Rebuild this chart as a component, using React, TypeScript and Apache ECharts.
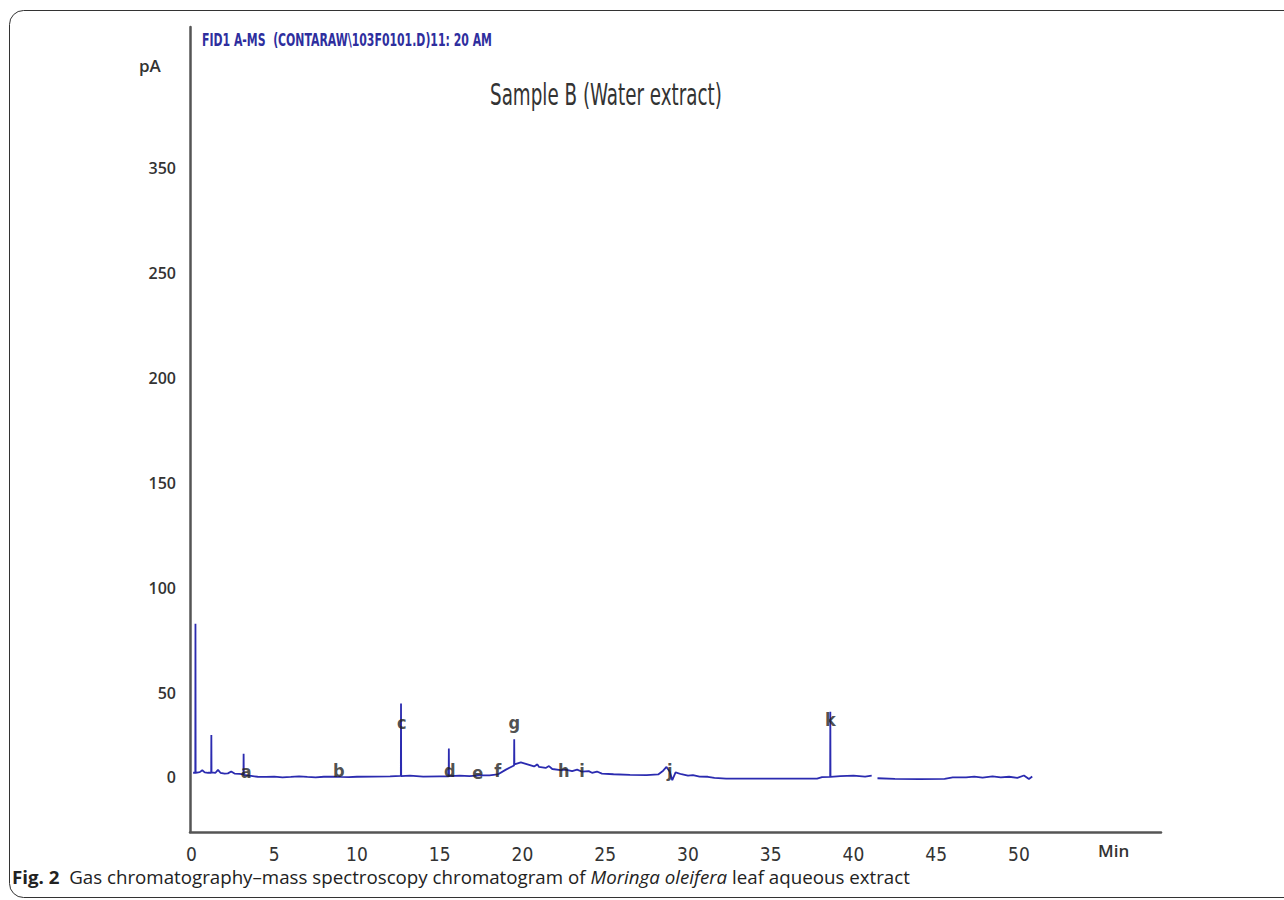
import React, { useEffect, useRef } from "react";
import * as echarts from "echarts";

// ---- data ----
const xTickValues = [0, 5, 10, 15, 20, 25, 30, 35, 40, 45, 50];
const yTickValues = [10, 50, 100, 150, 200, 250, 300];
const yTickLabels = ["0", "50", "100", "150", "200", "250", "350"];

const traceTimes = [
  0.1, 0.23, 0.24, 0.25, 0.5, 0.65, 0.8, 1.0, 1.19, 1.2, 1.21, 1.45, 1.6, 1.75, 2.0, 2.2, 2.4, 2.6, 2.9, 3.14,
  3.15, 3.16, 3.5, 4.0, 4.5, 5.0, 5.5, 6.0, 6.5, 7.0, 7.5, 8.0, 8.6, 9.0, 9.5, 10.0, 11.0, 12.0, 12.65, 12.66,
  12.67, 13.2, 14.0, 15.0, 15.54, 15.55, 15.56, 16.2, 16.8, 17.4, 18.0, 18.5, 19.0, 19.49, 19.5, 19.51, 19.9, 20.3, 20.7, 20.9,
  21.0, 21.4, 21.6, 21.8, 22.3, 22.6, 23.0, 23.3, 23.6, 24.0, 24.2, 24.5, 24.8, 25.5, 26.5, 27.5, 28.2, 28.5, 28.7, 28.9,
  29.05, 29.25, 29.6, 30.0, 30.3, 30.7, 31.2, 31.6, 32.3, 35.0, 37.8, 38.1, 38.59, 38.6, 38.61, 39.2, 40.0, 40.7, 41.1, 41.3,
  41.45, 42.5, 44.0, 45.5, 46.0, 46.8, 47.3, 47.8, 48.4, 48.9, 49.4, 49.9, 50.3, 50.6, 50.8,
];
const traceValues: (number | null)[] = [
  12, 12, 83, 12, 12.3, 13.2, 12.2, 12, 12, 30, 12.2, 12, 13.4, 12, 11.6, 11.7, 12.6, 11.6, 11.5, 11.2,
  21, 11, 10.6, 10.1, 10, 10.2, 9.8, 10.0, 10.3, 10.0, 9.8, 10.1, 10.2, 10.0, 9.9, 10.1, 10.2, 10.3, 10.5, 45,
  10.4, 10.6, 10.2, 10.3, 10.3, 23.5, 10.4, 10.6, 10.4, 10.8, 10.8, 11.2, 13.5, 15.5, 28, 16, 17, 16, 15, 16,
  14.8, 14.3, 15.2, 13.8, 13.3, 13.5, 12.8, 13.5, 12.5, 12.8, 12, 12.6, 11.6, 11.3, 11, 10.9, 11.2, 13, 14.8, 12.5,
  8.5, 12.2, 11.3, 10.6, 10.9, 10.2, 10.1, 9.6, 9.2, 9.2, 9.2, 9.9, 10, 41, 10, 10.4, 10.6, 10.2, 10.6, null,
  9.4, 9.1, 9.0, 9.1, 9.8, 9.8, 10.2, 9.7, 10.3, 9.8, 10.1, 9.6, 10.7, 9.0, 10.2,
];

const peakLetters = ["a", "b", "c", "d", "e", "f", "g", "h", "i", "j", "k"];
const peakLetterTimes = [3.3, 8.9, 12.7, 15.6, 17.3, 18.5, 19.5, 22.5, 23.6, 28.9, 38.6];
const peakLetterValues = [12.4, 13.3, 36, 13.3, 12, 13.3, 36, 12.9, 13.3, 13.3, 37.6];

const headerText = "FID1 A-MS  (CONTARAW\\103F0101.D)11: 20 AM";
const titleText = "Sample B (Water extract)";
const captionBold = "Fig. 2";
const captionA = "Gas chromatography\u2013mass spectroscopy chromatogram of ";
const captionItalic = "Moringa oleifera";
const captionB = " leaf aqueous extract";

function measure(text: string, font: string): number {
  const c = document.createElement("canvas");
  const ctx = c.getContext("2d")!;
  ctx.font = font;
  return ctx.measureText(text).width;
}

export default function App() {
  const ref = useRef<HTMLDivElement>(null);
  useEffect(() => {
    if (!ref.current) return;
    const chart = echarts.init(ref.current, undefined, { renderer: "svg" });

    const condensed = "'DejaVu Sans Condensed', 'DejaVu Sans', sans-serif";
    const headerFont = `bold 17px ${condensed}`;
    const headerScale = 290 / measure(headerText, headerFont);
    const titleFont = `31px ${condensed}`;
    const titleScale = 232 / measure(titleText, titleFont);

    const capFam = "'Open Sans', sans-serif";
    const capSize = 18;
    const capW =
      measure(captionBold, `bold ${capSize}px ${capFam}`) +
      measure("  " + captionA, `${capSize}px ${capFam}`) +
      measure(captionItalic, `italic ${capSize}px ${capFam}`) +
      measure(captionB, `${capSize}px ${capFam}`);
    const capScale = 898 / capW;

    const lineData = traceTimes.map((t, i) => [t, traceValues[i]]);
    const letterData = peakLetterTimes.map((t, i) => [t, peakLetterValues[i], peakLetters[i]]);

    chart.setOption({
      animation: false,
      backgroundColor: "#ffffff",
      grid: { left: 190, top: 27, right: 123, bottom: 68, containLabel: false },
      xAxis: {
        type: "value",
        min: -0.09,
        max: 58.58,
        axisLine: { show: true, onZero: false, lineStyle: { color: "#555555", width: 2.5 } },
        axisTick: { show: false },
        splitLine: { show: false },
        axisLabel: {
          customValues: xTickValues,
          margin: 12,
          color: "#333333",
          fontSize: 19,
          fontFamily: condensed,
        },
      },
      yAxis: {
        type: "value",
        min: -16.2,
        max: 367.1,
        axisLine: { show: true, onZero: false, lineStyle: { color: "#555555", width: 2.5 } },
        axisTick: { show: false },
        splitLine: { show: false },
        axisLabel: {
          customValues: yTickValues,
          formatter: (v: number) => {
            const idx = yTickValues.indexOf(v);
            return idx >= 0 ? yTickLabels[idx] : "";
          },
          margin: 14,
          color: "#333333",
          fontSize: 16,
          fontWeight: 600,
          fontFamily: "'Open Sans', sans-serif",
        },
      },
      series: [
        {
          type: "line",
          data: lineData,
          showSymbol: false,
          connectNulls: false,
          lineStyle: { color: "#2b2bb0", width: 1.8 },
          z: 2,
        },
        {
          type: "scatter",
          data: letterData,
          symbolSize: 2,
          itemStyle: { color: "rgba(0,0,0,0)" },
          label: {
            show: true,
            position: "inside",
            formatter: (p: any) => p.data[2],
            color: "#222222",
            fontSize: 18,
            fontWeight: "bold",
            fontFamily: condensed,
          },
          z: 3,
        },
      ],
      graphic: [
        {
          type: "rect",
          shape: { x: 9.5, y: 10.5, width: 1300, height: 887, r: 14 },
          style: { fill: "none", stroke: "#333333", lineWidth: 1 },
          silent: true,
          z: -1,
        },
        {
          type: "text",
          x: 202,
          y: 31,
          scaleX: headerScale,
          style: {
            text: headerText,
            font: headerFont,
            fill: "#2e2e9e",
          },
        },
        {
          type: "text",
          x: 490,
          y: 79,
          scaleX: titleScale,
          style: {
            text: titleText,
            font: titleFont,
            fill: "#333333",
          },
        },
        {
          type: "text",
          x: 139,
          y: 57,
          style: {
            text: "pA",
            font: `600 17px 'Open Sans', sans-serif`,
            fill: "#333333",
          },
        },
        {
          type: "text",
          x: 1098,
          y: 842,
          style: {
            text: "Min",
            font: `600 17px 'Open Sans', sans-serif`,
            fill: "#333333",
          },
        },
        {
          type: "text",
          x: 12,
          y: 868,
          scaleX: capScale,
          style: {
            text: `{b|${captionBold}}{n|  ${captionA}}{i|${captionItalic}}{n|${captionB}}`,
            rich: {
              b: { fontWeight: "bold", fontSize: capSize, fontFamily: capFam, fill: "#222222" },
              n: { fontSize: capSize, fontFamily: capFam, fill: "#222222" },
              i: { fontStyle: "italic", fontSize: capSize, fontFamily: capFam, fill: "#222222" },
            },
          },
        },
      ],
    });
    return () => chart.dispose();
  }, []);
  return (
    <div
      ref={ref}
      style={{ position: "fixed", left: 0, top: 0, width: 1284, height: 900 }}
    />
  );
}
